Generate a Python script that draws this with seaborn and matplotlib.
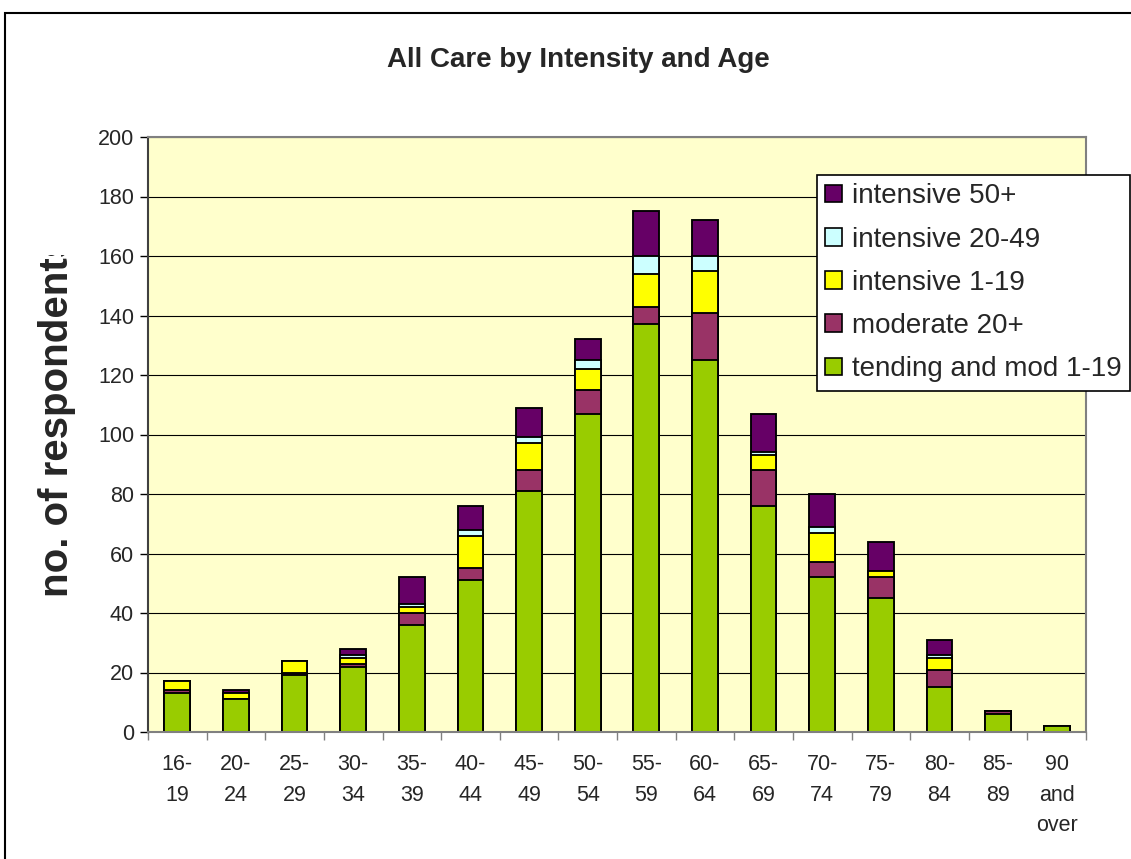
import numpy as np
import pandas as pd
import seaborn as sns
import matplotlib.pyplot as plt
from matplotlib.patches import Patch, Rectangle
from matplotlib.transforms import Bbox

# age bands and counts per care intensity
ages = ["16-\n19", "20-\n24", "25-\n29", "30-\n34", "35-\n39", "40-\n44", "45-\n49", "50-\n54",
        "55-\n59", "60-\n64", "65-\n69", "70-\n74", "75-\n79", "80-\n84", "85-\n89", "90\nand\nover"]
tending = [13, 11, 19, 22, 36, 51, 81, 107, 137, 125, 76, 52, 45, 15, 6, 2]
moderate = [1, 0, 1, 1, 4, 4, 7, 8, 6, 16, 12, 5, 7, 6, 1, 0]
int_1_19 = [3, 2, 4, 2, 2, 11, 9, 7, 11, 14, 5, 10, 2, 4, 0, 0]
int_20_49 = [0, 0, 0, 1, 1, 2, 2, 3, 6, 5, 1, 2, 0, 1, 0, 0]
int_50 = [0, 1, 0, 2, 9, 8, 10, 7, 15, 12, 13, 11, 10, 5, 0, 0]

series = ["tending and mod 1-19", "moderate 20+", "intensive 1-19", "intensive 20-49", "intensive 50+"]
colours = ["#99CC00", "#993366", "#FFFF00", "#CCFFFF", "#660066"]

df = pd.DataFrame({"age": ages, series[0]: tending, series[1]: moderate,
                   series[2]: int_1_19, series[3]: int_20_49, series[4]: int_50})
cum = df[series].cumsum(axis=1)

sns.set_style("white")
plt.rcParams['font.family'] = ['Liberation Sans', 'DejaVu Sans']

W, H = 1131, 859
fig = plt.figure(figsize=(W / 100, H / 100), dpi=100)
ax = fig.add_axes([148 / W, 1 - 732 / H, (1086 - 148) / W, (732 - 137) / H])
ax.set_facecolor("#FFFFCC")

# stacked bars: draw the cumulative totals from the top layer down
for name, col in reversed(list(zip(series, colours))):
    sns.barplot(x=df["age"], y=cum[name], color=col, saturation=1, width=0.44,
                edgecolor="black", linewidth=1.35, errorbar=None, ax=ax)

ax.set_ylim(0, 200)
ax.set_xlim(-0.5, len(ages) - 0.5)
ax.set_yticks(np.arange(0, 201, 20))
ax.yaxis.grid(True, color="black", linewidth=0.8)
ax.set_axisbelow(True)
ax.set_xlabel("")
ax.set_ylabel("")

ax.set_xticks(np.arange(-0.5, len(ages), 1), minor=True)
ax.tick_params(axis="x", which="major", length=0, pad=16, labelsize=15.5)
ax.tick_params(axis="x", which="minor", length=6, width=1, color="#808080", direction="out", bottom=True)
ax.tick_params(axis="y", length=6, width=1, color="black", direction="out", pad=4, labelsize=15.5, left=True)
for lab in ax.get_xticklabels():
    lab.set_linespacing(1.6)
    lab.set_verticalalignment("top")

for side in ["top", "right", "left", "bottom"]:
    ax.spines[side].set_color("#808080")
    ax.spines[side].set_linewidth(1.5)
ax.spines["left"].set_color("#404040")

# legend
handles = [Patch(facecolor=c, edgecolor="black", linewidth=1.2, label=s)
           for s, c in reversed(list(zip(series, colours)))]
leg = fig.legend(handles=handles, loc="upper left", bbox_to_anchor=(817 / W, 1 - 175 / H),
                 fontsize=20, frameon=True, fancybox=False, framealpha=1, edgecolor="black",
                 handlelength=0.6, handleheight=0.6, handletextpad=0.35, borderpad=0.3,
                 labelspacing=0.62, borderaxespad=0)
leg.get_frame().set_linewidth(1.2)

fig.text(578 / W, 1 - 67 / H, "All Care by Intensity and Age", ha="center", va="baseline",
         fontsize=20, fontweight="bold")

ylab = fig.text(57 / W, 1 - 597 / H, "no. of respondents", rotation=90, ha="center", va="bottom",
                fontsize=29, fontweight="bold")
ylab.set_clip_box(Bbox.from_extents(0, 0, W, H - 255))
ylab.set_clip_on(True)

# outer chart border
fig.patches.append(Rectangle((5 / W, -0.05), 1.1, 1 - 13 / H + 0.05, transform=fig.transFigure,
                             fill=False, edgecolor="black", linewidth=1.5, clip_on=False))

fig.savefig("out.png", dpi=100)
